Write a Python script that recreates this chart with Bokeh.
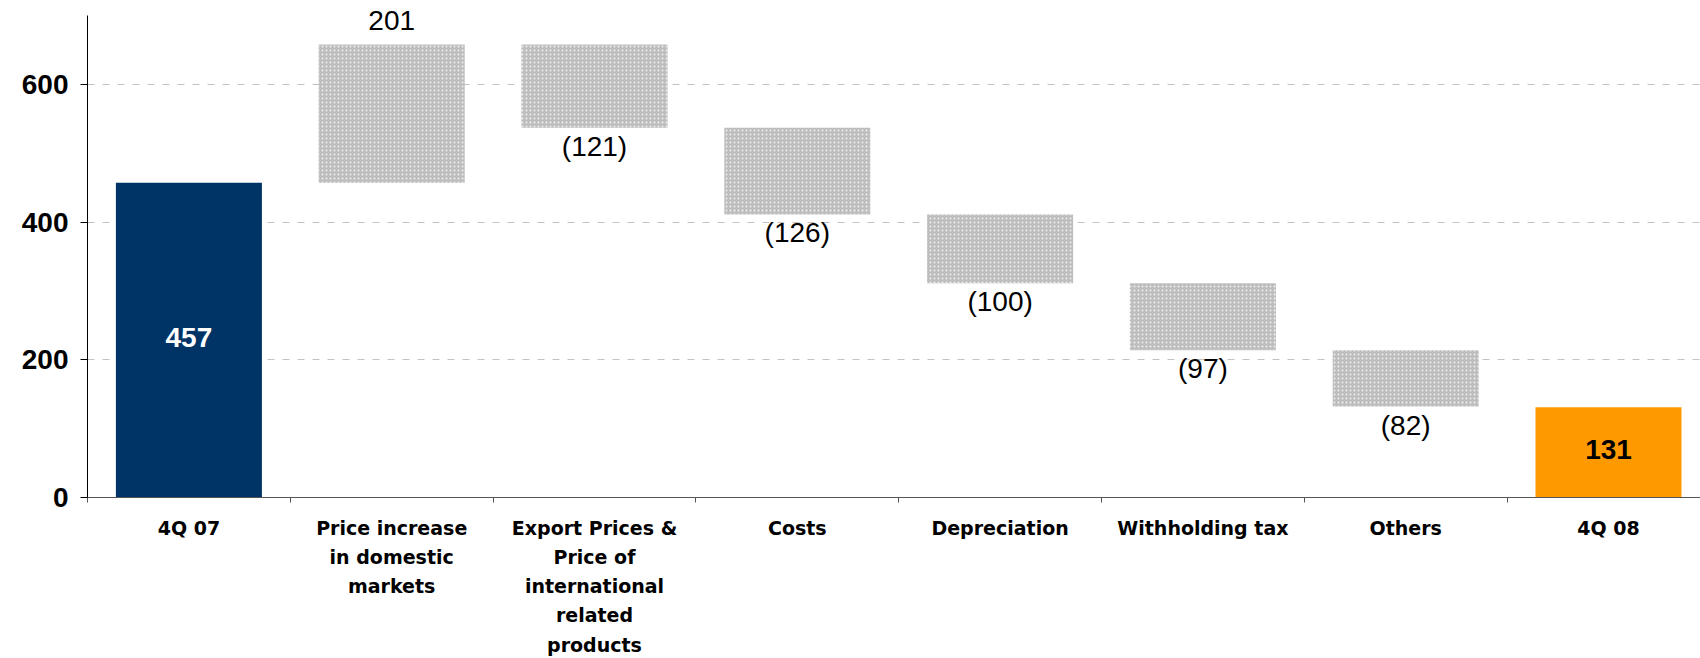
from bokeh.plotting import figure
from bokeh.models import ColumnDataSource, FixedTicker, Range1d, LabelSet
from bokeh.embed import file_html
from bokeh.resources import INLINE
from bokeh.core.properties import value

# ---- data -------------------------------------------------------------
categories = [
    "4Q 07",
    "Price increase\nin domestic\nmarkets",
    "Export Prices &\nPrice of\ninternational\nrelated\nproducts",
    "Costs",
    "Depreciation",
    "Withholding tax",
    "Others",
    "4Q 08",
]
start_value = 457
changes = [201, -121, -126, -100, -97, -82]
change_labels = ["201", "(121)", "(126)", "(100)", "(97)", "(82)"]
end_value = 131
y_ticks = [0, 200, 400, 600]
y_max = 700

# ---- derived waterfall geometry ----------------------------------------
centers = [i + 0.5 for i in range(len(categories))]
boundaries = list(range(len(categories)))

bottoms, tops = [], []
level = start_value
for c in changes:
    nxt = level + c
    bottoms.append(min(level, nxt))
    tops.append(max(level, nxt))
    level = nxt

step_src = ColumnDataSource(dict(
    x=centers[1:-1],
    bottom=bottoms,
    top=tops,
    label_y=[t if c > 0 else b for c, t, b in zip(changes, tops, bottoms)],
    label_off=[14 if c > 0 else -28 for c in changes],
    text=change_labels,
))
total_src = ColumnDataSource(dict(
    x=[centers[0], centers[-1]],
    top=[start_value, end_value],
    mid=[start_value / 2, end_value / 2],
    color=["#003366", "#FF9900"],
    text=[str(start_value), str(end_value)],
    text_color=["white", "black"],
))

# ---- figure -----------------------------------------------------------
# plot area: 0 at y=497 px, 700 at y=15 px; headroom above 700 keeps the
# "201" label inside the frame
cat_w = 202.8
frame_h = 497
px_per_unit = (497 - 15) / y_max
p = figure(
    width=1700, height=658,
    min_border_left=87, min_border_right=0,
    min_border_top=0, min_border_bottom=658 - frame_h,
    x_range=Range1d(0, (1700 - 87) / cat_w),
    y_range=Range1d(0, frame_h / px_per_unit),
    output_backend="svg", toolbar_location=None,
)
p.outline_line_color = None
p.background_fill_color = "white"
p.border_fill_color = "white"

bar_w = 0.72
p.vbar(x="x", bottom=0, top="top", width=bar_w, fill_color="color",
       line_color=None, source=total_src)
p.vbar(x="x", bottom="bottom", top="top", width=bar_w,
       fill_color="#bdbdbd", line_color=None,
       hatch_pattern="dot", hatch_color="white", hatch_scale=4,
       hatch_weight=1.2, hatch_alpha=0.75, source=step_src)

p.add_layout(LabelSet(
    x="x", y="label_y", y_offset="label_off", text="text", source=step_src,
    text_font=value("Liberation Sans"), text_font_size="28px",
    text_align="center", text_baseline="alphabetic", text_color="black",
))
p.add_layout(LabelSet(
    x="x", y="mid", y_offset=3, text="text", source=total_src,
    text_font=value("Liberation Sans"), text_font_size="28px",
    text_font_style="bold", text_align="center", text_baseline="middle",
    text_color="text_color",
))

# ---- axes & grid ------------------------------------------------------
p.xgrid.grid_line_color = None
p.ygrid.ticker = FixedTicker(ticks=y_ticks[1:])
p.ygrid.grid_line_color = "#c2c2c2"
p.ygrid.grid_line_dash = "7 8"
p.ygrid.grid_line_width = 1

ya = p.yaxis[0]
ya.ticker = FixedTicker(ticks=y_ticks)
ya.bounds = (0, y_max)
ya.axis_line_color = "black"
ya.major_tick_line_color = "black"
ya.major_tick_out = 7
ya.major_tick_in = 0
ya.minor_tick_line_color = None
ya.major_label_standoff = 12
ya.major_label_text_font = "Liberation Sans"
ya.major_label_text_font_style = "bold"
ya.major_label_text_font_size = "28px"
ya.major_label_text_color = "black"

xa = p.xaxis[0]
xa.ticker = FixedTicker(ticks=centers, minor_ticks=boundaries)
xa.major_label_overrides = {c: lab for c, lab in zip(centers, categories)}
xa.axis_line_color = "#555555"
xa.major_tick_line_color = None
xa.major_tick_out = 0
xa.major_tick_in = 0
xa.minor_tick_line_color = "#555555"
xa.minor_tick_out = 5
xa.minor_tick_in = 0
xa.major_label_standoff = 14
xa.major_label_text_font = "DejaVu Sans"
xa.major_label_text_font_style = "bold"
xa.major_label_text_font_size = "19px"
xa.major_label_text_line_height = 1.33
xa.major_label_text_color = "black"

open("out.html", "w").write(file_html(p, INLINE))
